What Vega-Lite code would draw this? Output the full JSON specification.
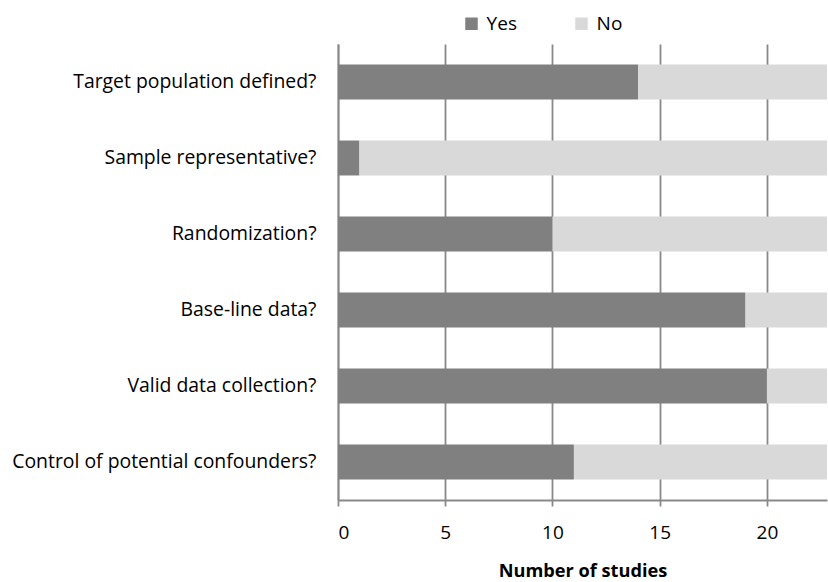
{
  "$schema": "https://vega.github.io/schema/vega-lite/v6.json",
  "width": 489,
  "height": 456,
  "autosize": {"type": "none"},
  "padding": {"left": 338, "top": 44, "right": 1, "bottom": 82},
  "background": "white",
  "data": {"values": [
    {"q": "Target population defined?", "answer": "Yes", "n": 14},
    {"q": "Target population defined?", "answer": "No", "n": 9},
    {"q": "Sample representative?", "answer": "Yes", "n": 1},
    {"q": "Sample representative?", "answer": "No", "n": 22},
    {"q": "Randomization?", "answer": "Yes", "n": 10},
    {"q": "Randomization?", "answer": "No", "n": 13},
    {"q": "Base-line data?", "answer": "Yes", "n": 19},
    {"q": "Base-line data?", "answer": "No", "n": 4},
    {"q": "Valid data collection?", "answer": "Yes", "n": 20},
    {"q": "Valid data collection?", "answer": "No", "n": 3},
    {"q": "Control of potential confounders?", "answer": "Yes", "n": 11},
    {"q": "Control of potential confounders?", "answer": "No", "n": 12}
  ]},
  "mark": {"type": "bar", "clip": true},
  "encoding": {
    "y": {
      "field": "q", "type": "nominal",
      "sort": ["Target population defined?", "Sample representative?", "Randomization?", "Base-line data?", "Valid data collection?", "Control of potential confounders?"],
      "scale": {"paddingInner": 0.54, "paddingOuter": 0.27},
      "axis": {"title": null, "ticks": false, "labelPadding": 22, "labelLimit": 400, "labelFontSize": 19.4, "labelFont": "Open Sans", "labelColor": "#000000", "domainColor": "#898989", "domainWidth": 1.8, "grid": false}
    },
    "x": {
      "field": "n", "type": "quantitative", "stack": "zero",
      "scale": {"domain": [0, 22.8], "nice": false, "zero": true},
      "axis": {"values": [0, 5, 10, 15, 20], "title": "Number of studies", "titleFont": "Open Sans", "titleFontSize": 18.2, "titleFontWeight": "bold", "titleColor": "#000000", "titlePadding": 20,
        "labelFont": "Open Sans", "labelFontSize": 19, "labelColor": "#000000", "labelPadding": 17,
        "grid": true, "gridColor": "#898989", "gridWidth": 1.8, "domainColor": "#898989", "domainWidth": 1.8, "tickColor": "#898989", "tickWidth": 1.8, "tickSize": 6}
    },
    "color": {
      "field": "answer", "type": "nominal",
      "scale": {"domain": ["Yes", "No"], "range": ["#808080", "#d9d9d9"]},
      "legend": {"title": null, "orient": "none", "direction": "horizontal", "legendX": 124, "legendY": -30, "symbolType": "square", "symbolSize": 156, "symbolStrokeWidth": 0, "labelFont": "Open Sans", "labelFontSize": 19, "labelColor": "#000000", "columnPadding": 55, "labelOffset": 5.6}
    },
    "order": {"field": "answer", "sort": "descending"}
  },
  "config": {"view": {"stroke": null}}
}
